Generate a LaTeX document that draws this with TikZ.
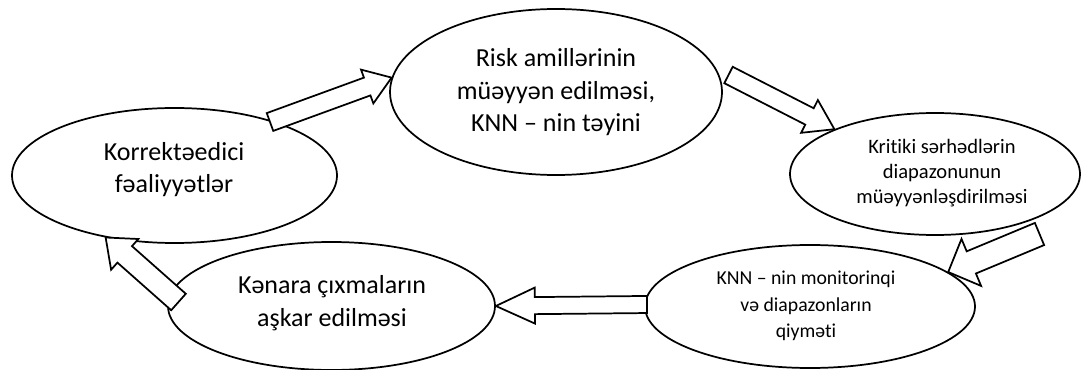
\documentclass[tikz,border=0pt]{standalone}
\usepackage{fontspec}
\setmainfont{Carlito}[Ligatures=NoCommon]
\usetikzlibrary{shapes.geometric,calc}

\tikzset{
  oval/.style={ellipse, draw, line width=1.3pt, inner sep=0pt},
  caption/.style={inner sep=0pt, align=center},
  bigtext/.style={font=\fontsize{19.5}{24.4}\selectfont},
  smalltext/.style={font=\fontsize{15.4}{18.8}\selectfont},
  midtext/.style={font=\fontsize{14.8}{19.9}\selectfont},
  blockarrow/.style={draw, fill=white, line width=1.3pt, line join=miter}
}

% hollow block arrow: #1 tail, #2 tip, #3 shaft half width,
% #4 head half width, #5 head length
\newcommand\blockarr[5]{%
  \coordinate (ba-n) at ($(#2)!#5!(#1)$);
  \draw[blockarrow]
    ($(#1)!#3!90:(#2)$) -- ($(ba-n)!#3!-90:(#1)$) -- ($(ba-n)!#4!-90:(#1)$)
    -- (#2) -- ($(ba-n)!#4!90:(#1)$) -- ($(ba-n)!#3!90:(#1)$)
    -- ($(#1)!#3!-90:(#2)$) -- cycle;
}

\begin{document}
\begin{tikzpicture}[x=0.75pt,y=-0.75pt]
  \useasboundingbox (0,0) rectangle (1088,370);

  % process stages
  \node[oval, minimum width=249pt, minimum height=124.5pt] (risk) at (556,92) {};
  \node[oval, minimum width=243.75pt, minimum height=101.25pt] (korr) at (174.5,175.5) {};
  \node[oval, minimum width=217.5pt, minimum height=91.5pt] (krit) at (935,174) {};
  \node[oval, minimum width=247.5pt, minimum height=92.25pt] (monit) at (810,306.5) {};
  \node[oval, minimum width=245.25pt, minimum height=96pt] (kenar) at (331.5,306) {};

  % stage texts
  \node[caption, bigtext] (risk-txt) at (556,92.5)
    {Risk amillərinin\\müəyyən edilməsi,\\KNN – nin təyini};
  \node[caption, bigtext] (korr-txt) at (174,169.5)
    {Korrektəedici\\fəaliyyətlər};
  \node[caption, smalltext] (krit-txt) at (942,173)
    {Kritiki sərhədlərin\\diapazonunun\\müəyyənləşdirilməsi};
  \node[caption, midtext] (monit-txt) at (806,306)
    {KNN – nin monitorinqi\\və diapazonların\\qiyməti};
  \node[caption, bigtext] (kenar-txt) at (332,303)
    {Kənara çıxmaların\\aşkar edilməsi};

  % arrow tails
  \coordinate (t1) at (270,122);
  \coordinate (t2) at (728.5,75);
  \coordinate (t3) at (1039.5,234);
  \coordinate (t4) at (647,304.5);
  \coordinate (t5) at (178.5,302);

  % cycle arrows
  \blockarr{t1}{risk.175}{7.1pt}{13.5pt}{19.5pt}
  \blockarr{t2}{krit.156}{6.9pt}{13.8pt}{21pt}
  \blockarr{t3}{monit.14}{9pt}{19.1pt}{18.75pt}
  \blockarr{t4}{kenar.east}{6.4pt}{13.5pt}{29.25pt}
  \blockarr{t5}{korr.222}{8.25pt}{15.4pt}{19.1pt}
\end{tikzpicture}
\end{document}
